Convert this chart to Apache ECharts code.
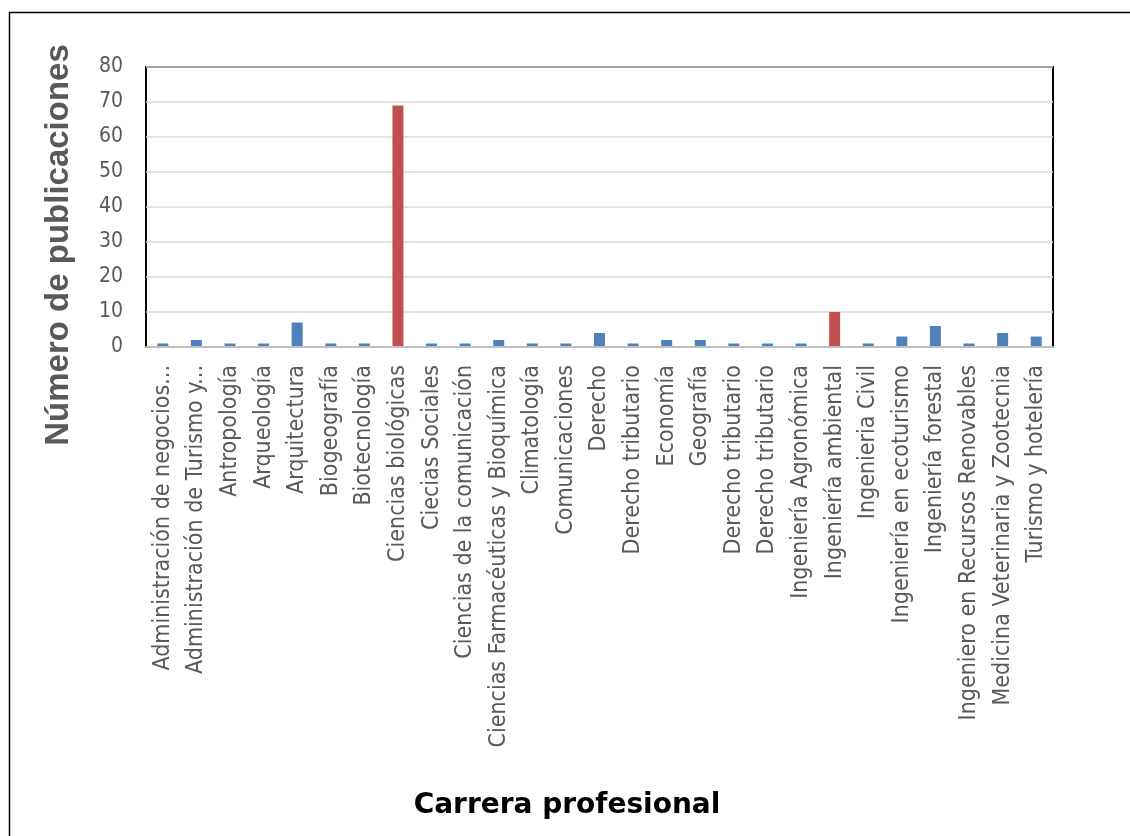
<!DOCTYPE html>
<html>
<head>
<meta charset="utf-8">
<script src="https://cdn.jsdelivr.net/npm/echarts@6/dist/echarts.min.js"></script>
<style>
html,body{margin:0;padding:0;background:#fff;}
#main{width:1130px;height:836px;}
</style>
</head>
<body>
<div id="main"></div>
<script>
const categories = [
  "Administración de negocios...",
  "Administración de Turismo y...",
  "Antropología",
  "Arqueología",
  "Arquitectura",
  "Biogeografía",
  "Biotecnología",
  "Ciencias biológicas",
  "Ciecias Sociales",
  "Ciencias de la comunicación",
  "Ciencias Farmacéuticas y Bioquímica",
  "Climatología",
  "Comunicaciones",
  "Derecho",
  "Derecho tributario",
  "Economía",
  "Geografía",
  "Derecho tributario",
  "Derecho tributario",
  "Ingeniería Agronómica",
  "Ingeniería ambiental",
  "Ingenieria Civil",
  "Ingeniería en ecoturismo",
  "Ingeniería forestal",
  "Ingeniero en Recursos Renovables",
  "Medicina Veterinaria y Zootecnia",
  "Turismo y hotelería"
];
const publicaciones = [1, 2, 1, 1, 7, 1, 1, 69, 1, 1, 2, 1, 1, 4, 1, 2, 2, 1, 1, 1, 10, 1, 3, 6, 1, 4, 3];
const yTicks = [0, 10, 20, 30, 40, 50, 60, 70, 80];
const yTitle = "Número de publicaciones";
const xTitle = "Carrera profesional";

const chart = echarts.init(document.getElementById('main'), null, {renderer: 'canvas'});
const labelFont = '"DejaVu Sans Condensed", "Open Sans", sans-serif';
chart.setOption({
  animation: false,
  backgroundColor: '#fff',
  grid: {
    left: 146, right: 77, top: 67, bottom: 489,
    show: true, borderColor: '#000', borderWidth: 2, backgroundColor: 'transparent'
  },
  xAxis: {
    type: 'category',
    data: categories,
    z: 5,
    axisLine: {show: true, lineStyle: {color: '#BFBFBF', width: 2}},
    axisTick: {show: false},
    axisLabel: {
      interval: 0, rotate: 90, margin: 18,
      color: '#595959', fontSize: 23, fontFamily: labelFont
    }
  },
  yAxis: {
    type: 'value',
    min: yTicks[0], max: yTicks[yTicks.length - 1], interval: 10,
    axisLine: {show: false},
    axisTick: {show: false},
    splitLine: {lineStyle: {color: '#D9D9D9', width: 1.5}},
    axisLabel: {margin: 23, color: '#595959', fontSize: 21, fontFamily: labelFont}
  },
  series: [{
    type: 'bar',
    data: publicaciones,
    barWidth: 11,
    itemStyle: {
      color: function (p) { return p.value >= 10 ? '#C0504D' : '#4F81BD'; }
    }
  }],
  graphic: [
    {
      type: 'rect', silent: true, z: -1,
      shape: {x: 9.5, y: 12.5, width: 1200, height: 900},
      style: {fill: 'none', stroke: '#000', lineWidth: 1.5}
    },
    {
      type: 'text', x: 59, y: 245, rotation: Math.PI / 2,
      style: {
        text: yTitle, fill: '#595959',
        font: 'bold 33px "Liberation Sans", Arial, sans-serif',
        textAlign: 'center', textVerticalAlign: 'middle'
      }
    },
    {
      type: 'text', x: 567, y: 806,
      style: {
        text: xTitle, fill: '#000',
        font: 'bold 28px "DejaVu Sans", Verdana, sans-serif',
        textAlign: 'center', textVerticalAlign: 'middle'
      }
    }
  ]
});
</script>
</body>
</html>
